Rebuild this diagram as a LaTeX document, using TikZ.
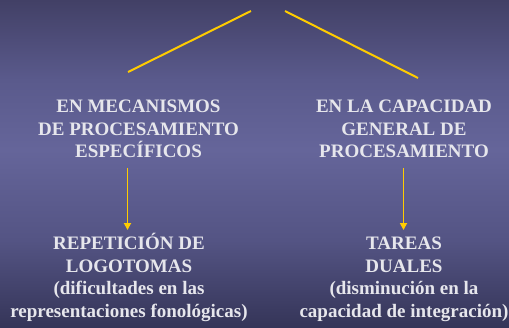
\documentclass[tikz,border=0pt]{standalone}
\usepackage{fontspec}
\setmainfont{Liberation Serif}
\usetikzlibrary{arrows.meta}
\definecolor{ylw}{HTML}{FFCC00}
\definecolor{txt}{HTML}{E6E6EC}
\pgfdeclareverticalshading{bgshade}{100bp}{%
  color(0bp)=(rgb,255:red,53;green,53;blue,88);
  color(25bp)=(rgb,255:red,53;green,53;blue,88);
  color(38.3bp)=(rgb,255:red,84;green,84;blue,132);
  color(52.1bp)=(rgb,255:red,101;green,101;blue,154);
  color(62.8bp)=(rgb,255:red,90;green,90;blue,140);
  color(75bp)=(rgb,255:red,66;green,64;blue,102);
  color(100bp)=(rgb,255:red,66;green,64;blue,102)}
\tikzset{
  lbl/.style={align=center, anchor=north, inner sep=0pt, text=txt,
    font=\bfseries\fontsize{19}{22.6}\selectfont},
  branch/.style={draw=ylw, line width=2pt},
  conn/.style={draw=ylw, line width=1.8pt, -{Triangle[length=7pt,width=7pt]}}
}
\begin{document}
\begin{tikzpicture}[x=1pt,y=-1pt]
\shade[shading=bgshade] (0,0) rectangle (509,327);
\useasboundingbox (0,0) rectangle (509,327);
\coordinate (apexL) at (251,11);
\coordinate (endL) at (128,72);
\coordinate (apexR) at (285,11);
\coordinate (endR) at (418,78);
\draw[branch] (apexL) -- (endL);
\draw[branch] (apexR) -- (endR);
\node[lbl] (topL) at (138.5,100) {EN MECANISMOS\\DE PROCESAMIENTO\\ESPECÍFICOS};
\node[lbl] (topR) at (404,100) {EN LA CAPACIDAD\\GENERAL DE\\PROCESAMIENTO};
\node[lbl] (botL) at (129,233) {REPETICIÓN DE\\LOGOTOMAS\\(dificultades en las\\representaciones fonológicas)};
\node[lbl] (botR) at (404,237) {TAREAS\\DUALES\\(disminución en la\\capacidad de integración)};
\coordinate (aLs) at (127.5,168);
\coordinate (aLe) at (127.5,230);
\coordinate (aRs) at (403.5,168);
\coordinate (aRe) at (403.5,230);
\draw[conn] (aLs) -- (aLe);
\draw[conn] (aRs) -- (aRe);
\end{tikzpicture}
\end{document}
